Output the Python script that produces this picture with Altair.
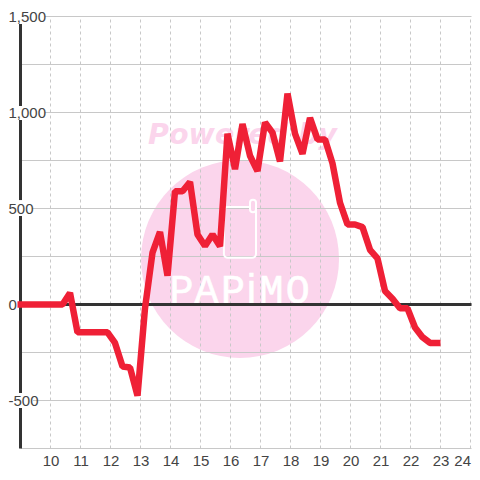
import altair as alt
import pandas as pd

# red series
hours = [8.9 + 0.25 * k for k in range(56)] + [23.0]
values = [0, 0, 0, 0, 0, 0, 0, 60, -145, -145, -145, -145, -145, -200, -323, -328,
          -475, -20, 270, 378, 150, 590, 590, 638, 365, 305, 365, 303, 890, 705,
          940, 775, 695, 948, 895, 745, 1098, 890, 785, 972, 860, 860, 735, 530,
          417, 417, 403, 285, 240, 70, 30, -20, -20, -120, -170, -200, -200]

x_ticks = list(range(10, 25))
y_grid = [-750, -500, -250, 0, 250, 500, 750, 1000, 1250, 1500]

y_label_text = ["1,500", "1,000", "500", "0", "-500"]
y_label_val = [1500, 1000, 500, 0, -500]
y_label_x = [8.6, 8.6, 8.6, 8.6, 8.6]

bg_x2 = [9.817, 9.817, 9.383, 9.417]
bg_top = [1544, 1034, 544, -461]
bg_bot = [1461, 961, 461, -539]

logo_letters = ["P", "A", "P", "M", "O"]
logo_x = [14.37, 15.2, 16.08, 17.37, 18.24]
logo_i_x = [16.7]
logo_y = 70

XMIN, XMAX = 9, 9 + 451 / 30
YMIN, YMAX = -750, 1500
FONT = "Liberation Sans"
INK = "#444444"
GRID = "#c8c8c8"
PINK = "#fbd5ec"

x_scale = alt.Scale(domain=[XMIN, XMAX], nice=False, zero=False)
y_scale = alt.Scale(domain=[YMIN, YMAX], nice=False, zero=False)
x_axis = alt.Axis(values=x_ticks, grid=False, domain=False, ticks=False, format="d",
                  labelFont=FONT, labelFontSize=15, labelColor=INK, labelPadding=5,
                  title=None, labelFlush=10, labelOverlap=False)


def X(f="x"):
    return alt.X(f"{f}:Q", scale=x_scale, axis=x_axis)


def Y(f="y"):
    return alt.Y(f"{f}:Q", scale=y_scale, axis=None)


circle = alt.Chart(pd.DataFrame({"x": [16.317], "y": [237]})).mark_point(
    shape="circle", filled=True, size=39204, color=PINK, opacity=1
).encode(x=X(), y=Y())

powered = alt.Chart(pd.DataFrame({"x": [16.4], "y": [883], "t": ["Powered by"]})).mark_text(
    font="DejaVu Sans", fontSize=28.5, fontWeight="bold", fontStyle="italic", color=PINK,
    align="center", baseline="middle"
).encode(x=X(), y=Y(), text="t:N")

grid_h = alt.Chart(pd.DataFrame({"y": y_grid, "x": [XMIN] * len(y_grid), "x2": [XMAX] * len(y_grid)})).mark_rule(
    color=GRID, strokeWidth=1
).encode(y=Y(), x=X(), x2="x2:Q")

grid_v = alt.Chart(pd.DataFrame({"x": x_ticks, "y": [YMIN] * len(x_ticks), "y2": [YMAX] * len(x_ticks)})).mark_rule(
    color=GRID, strokeWidth=1, strokeDash=[3, 3]
).encode(x=X(), y=Y(), y2="y2:Q")

y_line = alt.Chart(pd.DataFrame({"x": [XMIN], "y": [YMIN], "y2": [YMAX]})).mark_rule(
    color="#333333", strokeWidth=3
).encode(x=X(), y=Y(), y2="y2:Q")

label_bg = alt.Chart(pd.DataFrame({"x": [8.5] * 4, "x2": bg_x2, "y": bg_top, "y2": bg_bot})).mark_rect(
    color="white"
).encode(x=X(), x2="x2:Q", y=Y(), y2="y2:Q")

y_labels = alt.Chart(pd.DataFrame({"x": y_label_x, "y": y_label_val, "t": y_label_text})).mark_text(
    font=FONT, fontSize=15, color=INK, align="left", baseline="middle"
).encode(x=X(), y=Y(), text="t:N")

phone = alt.Chart(pd.DataFrame({"x": [15.78], "x2": [16.85], "y": [508], "y2": [243]})).mark_rect(
    fillOpacity=0, stroke="white", strokeWidth=2, cornerRadius=4
).encode(x=X(), x2="x2:Q", y=Y(), y2="y2:Q")

phone_nub = alt.Chart(pd.DataFrame({"x": [16.65], "x2": [16.85], "y": [545], "y2": [480]})).mark_rect(
    fill=PINK, stroke="white", strokeWidth=2, cornerRadius=3
).encode(x=X(), x2="x2:Q", y=Y(), y2="y2:Q")

logo = alt.Chart(pd.DataFrame({"x": logo_x, "y": [logo_y] * 5, "t": logo_letters})).mark_text(
    font="Liberation Mono", fontSize=40, color="white", stroke="white", strokeWidth=0.6,
    align="center", baseline="middle"
).encode(x=X(), y=Y(), text="t:N")

logo_i = alt.Chart(pd.DataFrame({"x": logo_i_x, "y": [logo_y], "t": ["i"]})).mark_text(
    font="Liberation Sans", fontSize=40, color="white", stroke="white", strokeWidth=0.6,
    align="center", baseline="middle"
).encode(x=X(), y=Y(), text="t:N")

zero = alt.Chart(pd.DataFrame({"x": [XMIN], "x2": [XMAX], "y": [0]})).mark_rule(
    color="#333333", strokeWidth=3
).encode(y=Y(), x=X(), x2="x2:Q")

line = alt.Chart(pd.DataFrame({"x": hours, "y": values})).mark_line(
    color="#ef2036", strokeWidth=6.5, strokeJoin="bevel", strokeCap="butt", interpolate="linear"
).encode(x=X(), y=Y(), order="x:Q")

chart = alt.layer(
    circle, powered, grid_h, grid_v, y_line, label_bg, y_labels,
    phone, phone_nub, logo, logo_i, zero, line
).properties(
    width=451, height=432,
    padding={"left": 12.5, "top": 8.5, "right": 0, "bottom": 20},
    background="white",
    autosize=alt.AutoSizeParams(type="none", contains="content"),
).configure_view(stroke=None)

chart.save("out.html", embed_options={"renderer": "svg", "actions": False})
